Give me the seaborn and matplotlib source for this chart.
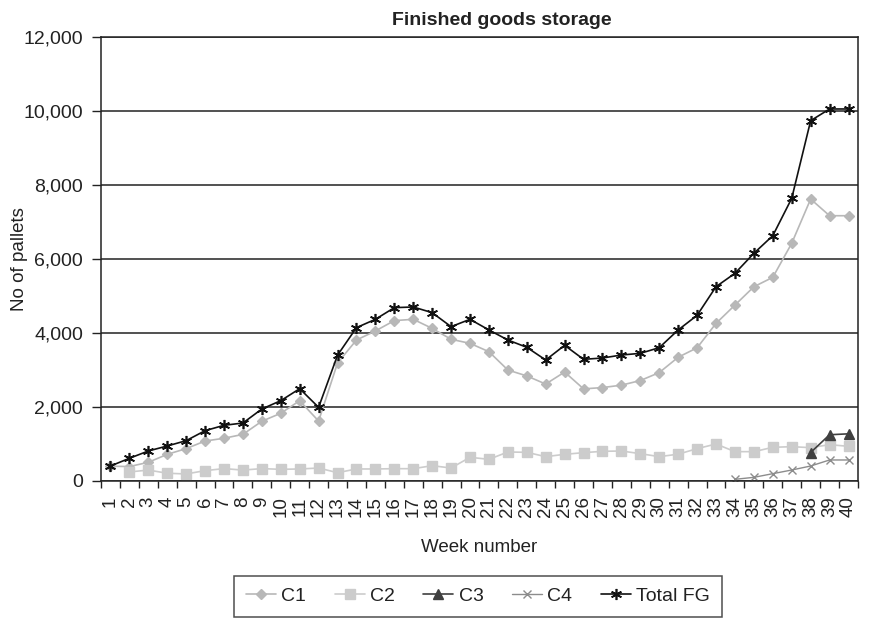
import numpy as np
import pandas as pd
import matplotlib
matplotlib.use("Agg")
import matplotlib.pyplot as plt
import seaborn as sns
from matplotlib.ticker import FuncFormatter, FixedLocator

nan = np.nan
weeks = list(range(1, 41))
week_labels = [str(w) for w in weeks]

c1 = [400, 390, 505, 720, 875, 1080, 1155, 1260, 1615, 1830,
      2170, 1620, 3190, 3810, 4055, 4335, 4370, 4125, 3830, 3720,
      3495, 3000, 2840, 2620, 2945, 2490, 2525, 2590, 2715, 2930,
      3345, 3600, 4260, 4755, 5250, 5505, 6425, 7620, 7170, 7170]
c2 = [nan, 245, 295, 210, 190, 280, 335, 295, 335, 315,
      325, 350, 225, 325, 325, 333, 333, 414, 351, 640,
      586, 784, 775, 658, 721, 766, 802, 811, 739, 658,
      725, 874, 1000, 793, 793, 910, 928, 901, 982, 937]
c3 = [nan] * 37 + [770, 1250, 1275]
c4 = [nan] * 33 + [45, 99, 198, 297, 405, 568, 568]
total = [405, 613, 811, 946, 1090, 1360, 1505, 1567, 1946, 2171,
         2495, 1991, 3400, 4145, 4370, 4685, 4703, 4550, 4171, 4370,
         4082, 3811, 3613, 3270, 3667, 3288, 3324, 3405, 3450, 3604,
         4082, 4478, 5252, 5613, 6154, 6631, 7640, 9739, 10055, 10055]

series = {"C1": c1, "C2": c2, "C3": c3, "C4": c4, "Total FG": total}
df = pd.DataFrame({"week": weeks, **series})

sns.set_theme(style="white")
plt.rcParams["font.family"] = ["Liberation Sans", "DejaVu Sans"]

fig = plt.figure(figsize=(8.69, 6.2), dpi=100)
ax = fig.add_axes([0.1162, 0.2242, 0.8711, 0.7161])

styles = {
    "C1": dict(color="#b8b8b8", marker="D", markersize=5.5, mec="#b8b8b8", lw=1.2),
    "C2": dict(color="#cccccc", marker="s", markersize=6.5, mec="#cccccc", lw=1.2),
    "C3": dict(color="#404040", marker="^", markersize=7, mec="#404040", lw=1.2),
    "C4": dict(color="#8c8c8c", marker="x", markersize=6, mec="#8c8c8c", mew=1.0, lw=1.0),
    "Total FG": dict(color="#111111", marker=(6, 2, 0), markersize=8, mec="#111111", mew=1.2, lw=1.2),
}

for name in series:
    st = styles[name]
    sub = df[["week", name]].dropna()
    sns.lineplot(data=sub, x="week", y=name, ax=ax, label=name,
                 color=st["color"], marker=st["marker"], markersize=st["markersize"],
                 markeredgecolor=st["mec"], markeredgewidth=st.get("mew", 1.0),
                 linewidth=st["lw"], legend=False)

ax.set_xlim(0.5, 40.5)
ax.set_ylim(0, 12000)
ax.set_yticks(np.arange(0, 12001, 2000))
ax.yaxis.set_major_formatter(FuncFormatter(lambda v, p: f"{int(v):,}"))
ax.grid(axis="y", color="#222222", linewidth=1.1)
ax.set_axisbelow(True)

ax.set_xticks(weeks)
ax.set_xticklabels(week_labels, rotation=90)
ax.xaxis.set_minor_locator(FixedLocator(np.arange(0.5, 41, 1)))
ax.tick_params(axis="x", which="major", length=0, pad=11, labelsize=13.5, colors="#222222")
ax.tick_params(axis="x", which="minor", length=5, width=1.0, color="#222222", bottom=True)
ax.tick_params(axis="y", length=6.5, width=1.0, pad=6.5, color="#222222", left=True,
               labelsize=14, labelcolor="#222222")

for sp in ax.spines.values():
    sp.set_visible(True)
    sp.set_color("#222222")
    sp.set_linewidth(1.1)

ax.set_xlabel("Week number", fontsize=13.5, color="#222222", labelpad=16)
ax.set_ylabel("No of pallets", fontsize=13.5, color="#222222")
ax.yaxis.set_label_coords(-0.096, 0.5)
ax.set_title("Finished goods storage", fontsize=14, fontweight="bold", color="#222222",
             pad=9, x=0.53)

handles, labels = ax.get_legend_handles_labels()
leg = fig.legend(handles, labels, loc="center", bbox_to_anchor=(0.55, 0.038), ncol=5,
                 frameon=True, fancybox=False, edgecolor="#222222", fontsize=14,
                 handlelength=1.55, handletextpad=0.28, columnspacing=1.45, borderpad=0.6)
leg.get_frame().set_linewidth(1.1)
for t in leg.get_texts():
    t.set_color("#222222")

fig.savefig("out.png", dpi=100)
